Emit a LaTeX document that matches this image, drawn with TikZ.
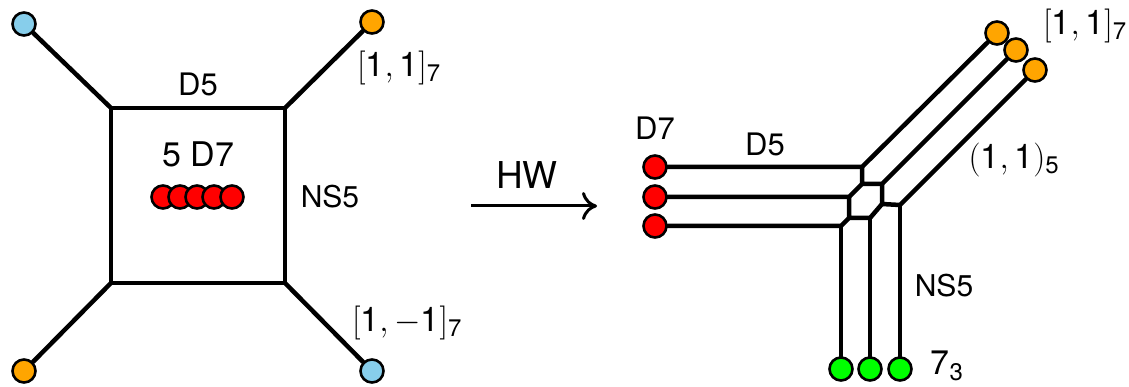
\RequirePackage{fix-cm}
\documentclass[tikz,border=0pt]{standalone}
\usepackage{fontspec}
\setsansfont{TeX Gyre Heros}
\usetikzlibrary{arrows.meta}
\DeclareMathSizes{34}{34}{24}{18}
\tikzset{
  x=1pt,y=-1pt,
  brane/.style={line width=4.5pt,line cap=round,line join=round,black},
  seven/.style={circle,draw=black,line width=2.6pt,minimum size=23pt,inner sep=0pt},
  lbl/.style={inner sep=0pt,font=\fontsize{31}{35}\selectfont\sffamily},
  mlbl/.style={inner sep=0pt,font=\fontsize{34}{38}\selectfont\sffamily}
}
\definecolor{skyb}{RGB}{135,206,235}
\definecolor{orng}{RGB}{255,165,0}
\definecolor{grn}{RGB}{0,255,0}
\newcommand{\dg}[1]{\mbox{\sffamily #1}}
\newcommand{\sbs}[1]{_{\mbox{\fontsize{24}{27}\selectfont\sffamily #1}}}
\begin{document}
\begin{tikzpicture}
\useasboundingbox (0,0) rectangle (1129,387);
% left web
\coordinate (a) at (111,108);
\coordinate (b) at (285,108);
\coordinate (c) at (285,283);
\coordinate (d) at (111,283);
\node[seven,fill=skyb] (tl) at (24,24) {};
\node[seven,fill=orng] (tr) at (372,22) {};
\node[seven,fill=orng] (bl) at (24,371) {};
\node[seven,fill=skyb] (br) at (372,371) {};
\draw[brane] (a)--(b)--(c)--(d)--cycle;
\draw[brane] (a)--(tl) (b)--(tr) (d)--(bl) (c)--(br);
\foreach \n/\x in {r1/163,r2/180,r3/197,r4/214,r5/232}
  \node[seven,fill=red] (\n) at (\x,197) {};
\node[lbl] (ld5) at (198,84) {D5};
\node[lbl,font=\fontsize{34}{38}\selectfont\sffamily] (l5d7) at (198,154) {5 D7};
\node[lbl,font=\fontsize{30}{34}\selectfont\sffamily] (lns) at (330,197) {NS5};
\node[mlbl] (l11) at (399,68) {$[\dg{1},\dg{1}]\sbs{7}$};
\node[mlbl] (l1m) at (407,323) {$[\dg{1},-\dg{1}]\sbs{7}$};
% arrow
\coordinate (as) at (471,206);
\coordinate (ae) at (597,206);
\draw[line width=3pt,-{To[length=15pt,width=28pt]}] (as)--(ae);
\node[lbl,font=\fontsize{37}{41}\selectfont\sffamily] (hw) at (527,175) {HW};
% right web
\node[seven,fill=red] (d1) at (655,167) {};
\node[seven,fill=red] (d2) at (655,197) {};
\node[seven,fill=red] (d3) at (655,226) {};
\node[seven,fill=grn] (g1) at (841,369) {};
\node[seven,fill=grn] (g2) at (870,369) {};
\node[seven,fill=grn] (g3) at (900,369) {};
\node[seven,fill=orng] (o3) at (1035,70) {};
\node[seven,fill=orng] (o1) at (997,33) {};
\node[seven,fill=orng] (o2) at (1016,50) {};
\coordinate (p1) at (862,167);
\coordinate (p2) at (862,184);
\coordinate (p3) at (882,184);
\coordinate (p4) at (882,204);
\coordinate (p5) at (900,205);
\coordinate (q1) at (849,197);
\coordinate (q2) at (849,218);
\coordinate (q3) at (870,218);
\coordinate (s1) at (841,226);
\draw[brane] (d1)--(p1)--(o1);
\draw[brane] (p1)--(p2)--(p3)--(o2);
\draw[brane] (p3)--(p4)--(p5)--(o3);
\draw[brane] (p5)--(g3);
\draw[brane] (d2)--(q1)--(p2);
\draw[brane] (q1)--(q2)--(q3)--(p4);
\draw[brane] (q3)--(g2);
\draw[brane] (d3)--(s1)--(q2);
\draw[brane] (s1)--(g1);
\node[lbl] (rd7) at (655,128) {D7};
\node[lbl] (rd5) at (765,144) {D5};
\node[mlbl] (r11) at (1014,160) {$(\dg{1},\dg{1})\sbs{5}$};
\node[mlbl] (rt) at (1085,26) {$[\dg{1},\dg{1}]\sbs{7}$};
\node[lbl,font=\fontsize{30}{34}\selectfont\sffamily] (rns) at (944,286) {NS5};
\node[mlbl] (r73) at (947,366) {$\dg{7}\sbs{3}$};
\end{tikzpicture}
\end{document}
